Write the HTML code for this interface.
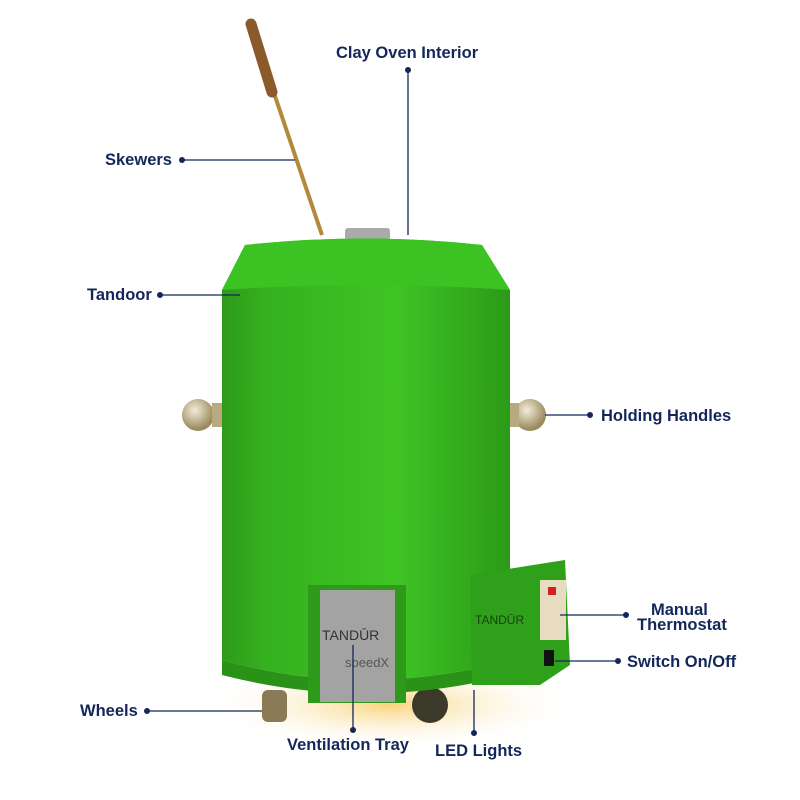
<!DOCTYPE html>
<html><head><style>
html,body{margin:0;padding:0;background:#fff;}
svg{display:block;}
text{font-family:"Liberation Sans",sans-serif;font-weight:bold;fill:#13275a;font-size:16.5px;}
</style></head><body>
<svg width="800" height="800" viewBox="0 0 800 800" xmlns="http://www.w3.org/2000/svg">
<defs>
<radialGradient id="glow" cx="0.5" cy="0.5" r="0.5">
<stop offset="0" stop-color="#f7c95a" stop-opacity="0.8"/>
<stop offset="1" stop-color="#fff" stop-opacity="0"/>
</radialGradient>
<linearGradient id="body" x1="0" x2="1">
<stop offset="0" stop-color="#2f9a1a"/>
<stop offset="0.15" stop-color="#35b11e"/>
<stop offset="0.6" stop-color="#3fc424"/>
<stop offset="1" stop-color="#2c9a18"/>
</linearGradient>
<radialGradient id="ball" cx="0.4" cy="0.35" r="0.6">
<stop offset="0" stop-color="#f4ecd6"/>
<stop offset="1" stop-color="#9a8a60"/>
</radialGradient>
</defs>
<ellipse cx="390" cy="705" rx="190" ry="45" fill="url(#glow)"/>
<line x1="256" y1="40" x2="322" y2="235" stroke="#b48a3a" stroke-width="4"/>
<line x1="251" y1="24" x2="272" y2="92" stroke="#8b5a2b" stroke-width="11" stroke-linecap="round"/>
<rect x="345" y="228" width="45" height="12" rx="3" fill="#aaa"/>
<rect x="262" y="690" width="25" height="32" rx="6" fill="#8a7a55"/>
<circle cx="430" cy="705" r="18" fill="#3b3a2a"/>
<circle cx="198" cy="415" r="16" fill="url(#ball)"/>
<circle cx="530" cy="415" r="16" fill="url(#ball)"/>
<rect x="212" y="403" width="14" height="24" fill="#b8aa80"/>
<rect x="505" y="403" width="14" height="24" fill="#b8aa80"/>
<path d="M245 245 Q365 232 482 245 L510 290 L510 660 Q365 700 222 660 L222 290 Z" fill="url(#body)"/>
<path d="M245 245 Q365 232 482 245 L510 290 Q365 280 222 290 Z" fill="#3cc222"/>
<path d="M222 660 Q365 700 510 660 L510 675 Q365 712 222 675 Z" fill="#2a9216"/>
<rect x="308" y="585" width="98" height="118" fill="#2f9a1a"/>
<rect x="320" y="590" width="75" height="112" fill="#a3a3a3"/>
<text x="322" y="640" style="font-weight:normal;font-size:14px;fill:#333">TANDŪR</text>
<text x="345" y="667" style="font-weight:normal;font-size:13px;fill:#555">speedX</text>
<path d="M470 575 L565 560 L570 665 L540 685 L472 685 Z" fill="#2fa01a"/>
<rect x="540" y="580" width="26" height="60" fill="#e8dcc0"/>
<rect x="548" y="587" width="8" height="8" fill="#d02020"/>
<rect x="544" y="650" width="10" height="16" fill="#111"/>
<text x="475" y="624" style="font-weight:normal;font-size:12px;fill:#1a4010">TANDŪR</text>
<g stroke="#13275a" stroke-width="1.3" fill="none">
<line x1="408" y1="70" x2="408" y2="235"/>
<line x1="182" y1="160" x2="295" y2="160"/>
<line x1="160" y1="295" x2="240" y2="295"/>
<line x1="545" y1="415" x2="590" y2="415"/>
<line x1="560" y1="615" x2="626" y2="615"/>
<line x1="555" y1="661" x2="618" y2="661"/>
<line x1="147" y1="711" x2="262" y2="711"/>
<line x1="353" y1="645" x2="353" y2="730"/>
<line x1="474" y1="690" x2="474" y2="733"/>
</g>
<g fill="#13275a">
<circle cx="408" cy="70" r="3"/><circle cx="182" cy="160" r="3"/><circle cx="160" cy="295" r="3"/>
<circle cx="590" cy="415" r="3"/><circle cx="626" cy="615" r="3"/><circle cx="618" cy="661" r="3"/>
<circle cx="147" cy="711" r="3"/><circle cx="353" cy="730" r="3"/><circle cx="474" cy="733" r="3"/>
</g>
<text x="336" y="58">Clay Oven Interior</text>
<text x="105" y="165">Skewers</text>
<text x="87" y="300">Tandoor</text>
<text x="601" y="421">Holding Handles</text>
<text x="651" y="615">Manual</text>
<text x="637" y="630">Thermostat</text>
<text x="627" y="667">Switch On/Off</text>
<text x="80" y="716">Wheels</text>
<text x="287" y="750">Ventilation Tray</text>
<text x="435" y="756">LED Lights</text>
</svg>
</body></html>
